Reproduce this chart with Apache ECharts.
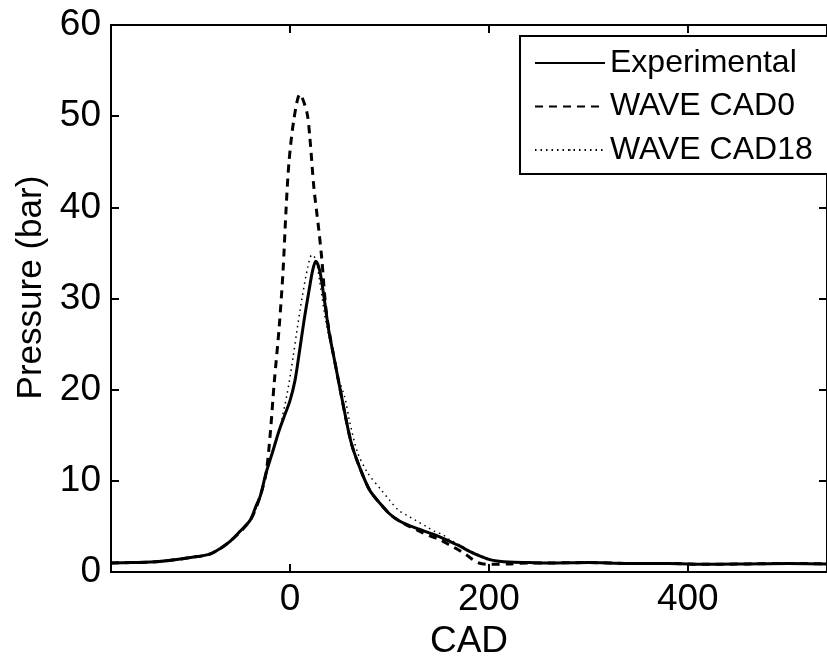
<!DOCTYPE html>
<html>
<head>
<meta charset="utf-8">
<script src="https://cdn.jsdelivr.net/npm/echarts@6/dist/echarts.min.js"></script>
<style>
html,body{margin:0;padding:0;background:#fff;}
#chart{width:827px;height:665px;}
</style>
</head>
<body>
<div id="chart"></div>
<script>
// ---- Data ----
const seriesNames = ['Experimental', 'WAVE CAD0', 'WAVE CAD18'];

const expCad = [-180,-160,-140,-120,-100,-80,-70,-60,-50,-40,-34,-30,-24,-18,-11,-5,0,5,9,14,19,23,26,30,34,39,45,55,62,70,80,90,100,110,120,130,140,150,160,170,180,190,200,210,220,240,260,300,340,380,420,460,500,540];
const expP   = [1.0,1.05,1.1,1.3,1.6,2.0,2.6,3.4,4.5,5.7,7.3,8.3,10.9,13.0,15.5,17.3,18.8,21.0,23.8,27.5,30.8,33.2,34.1,33.0,30.3,26.5,23.1,17.5,14.0,11.5,9.0,7.6,6.4,5.6,5.1,4.7,4.3,3.9,3.4,2.9,2.3,1.8,1.4,1.2,1.1,1.05,1.0,1.05,0.95,0.95,0.85,0.9,0.95,0.9];

const cad0Cad = [-180,-160,-140,-120,-100,-80,-60,-40,-30,-24,-20,-16,-11,-7,-4,-1,4,10,17,20,24,29,32,36,40,45,55,62,70,80,90,100,110,120,130,140,150,160,170,177,190,203,220,240,260,300,340,380,420,460,500,540];
const cad0P   = [1.0,1.05,1.1,1.3,1.6,2.0,3.4,5.7,8.3,10.9,15.0,20.6,26.7,33.0,39.7,45.0,49.7,52.4,50.4,47.6,42.2,37.5,34.3,29.0,26.0,23.1,17.5,14.0,11.5,9.0,7.6,6.4,5.6,5.0,4.5,4.0,3.6,3.0,2.4,1.9,1.0,0.85,0.9,1.0,1.0,1.05,0.95,0.95,0.85,0.9,0.95,0.9];

const cad18Cad = [-180,-160,-140,-120,-100,-80,-60,-40,-30,-24,-18,-11,-3,3,7,12,18,22,26,30,36,42,48,55,60,68,78,91,100,109,118,126,137,145,154,160,170,180,190,200,210,220,240,260,300,340,380,420,460,500,540];
const cad18P   = [1.0,1.05,1.1,1.3,1.6,2.0,3.4,5.7,8.3,10.9,13.0,15.5,19.5,23.5,26.5,30.0,33.5,34.8,34.3,31.8,27.5,24.5,21.5,19.2,16.5,13.1,10.9,9.1,7.9,6.8,6.2,5.7,5.0,4.5,4.07,3.6,3.0,2.4,1.9,1.45,1.2,1.1,1.05,1.0,1.05,0.95,0.95,0.85,0.9,0.95,0.9];

const xTicks = [0, 200, 400];

function pairs(xs, ys) { return xs.map((x, i) => [x, ys[i]]); }

const FONT = 'Liberation Sans, Arial, sans-serif';
const chart = echarts.init(document.getElementById('chart'), null, {renderer: 'canvas'});

chart.setOption({
  animation: false,
  backgroundColor: '#fff',
  grid: {left: 111, top: 25, right: -11, bottom: 84, show: false},
  legend: {
    orient: 'vertical',
    left: 520, top: 36,
    data: seriesNames,
    backgroundColor: '#fff',
    borderColor: '#000', borderWidth: 2, borderRadius: 0,
    padding: [11, 16, 8, 14],
    itemWidth: 70, itemHeight: 2, itemGap: 11.5,
    textStyle: {fontFamily: FONT, fontSize: 32, color: '#000', lineHeight: 30}
  },
  xAxis: [{
    type: 'value', min: -180, max: 540, position: 'bottom',
    name: 'CAD', nameLocation: 'middle', nameGap: 46,
    nameTextStyle: {fontFamily: FONT, fontSize: 37, color: '#000'},
    axisLine: {show: true, onZero: false, lineStyle: {color: '#000', width: 2}},
    axisTick: {show: true, inside: true, length: 8, customValues: xTicks, lineStyle: {color: '#000', width: 2}},
    axisLabel: {customValues: xTicks, fontFamily: FONT, fontSize: 37, color: '#000', margin: 9},
    splitLine: {show: false}
  }, {
    type: 'value', min: -180, max: 540, position: 'top',
    axisLine: {show: true, onZero: false, lineStyle: {color: '#000', width: 2}},
    axisTick: {show: true, inside: true, length: 8, customValues: xTicks, lineStyle: {color: '#000', width: 2}},
    axisLabel: {show: false},
    splitLine: {show: false}
  }],
  yAxis: [{
    type: 'value', min: 0, max: 60, interval: 10, position: 'left',
    name: 'Pressure (bar)', nameLocation: 'middle', nameGap: 58,
    nameTextStyle: {fontFamily: FONT, fontSize: 35, color: '#000', padding: [0, 0, 0, 22]},
    axisLine: {show: true, onZero: false, lineStyle: {color: '#000', width: 2}},
    axisTick: {show: true, inside: true, length: 8, lineStyle: {color: '#000', width: 2}},
    axisLabel: {fontFamily: FONT, fontSize: 37, color: '#000', margin: 10},
    splitLine: {show: false}
  }, {
    type: 'value', min: 0, max: 60, interval: 10, position: 'right',
    axisLine: {show: true, onZero: false, lineStyle: {color: '#000', width: 2}},
    axisTick: {show: true, inside: true, length: 8, lineStyle: {color: '#000', width: 2}},
    axisLabel: {show: false},
    splitLine: {show: false}
  }],
  series: [{
    name: seriesNames[0], type: 'line', xAxisIndex: 0, yAxisIndex: 0,
    data: pairs(expCad, expP), symbol: 'none', smooth: 0.3, z: 3,
    lineStyle: {color: '#000', width: 3, type: 'solid'},
    itemStyle: {color: '#000'}
  }, {
    name: seriesNames[1], type: 'line', xAxisIndex: 0, yAxisIndex: 0,
    data: pairs(cad0Cad, cad0P), symbol: 'none', smooth: 0.3, z: 2,
    lineStyle: {color: '#000', width: 3, type: [8, 6]},
    itemStyle: {color: '#000'}
  }, {
    name: seriesNames[2], type: 'line', xAxisIndex: 0, yAxisIndex: 0,
    data: pairs(cad18Cad, cad18P), symbol: 'none', smooth: 0.3, z: 2,
    lineStyle: {color: '#000', width: 1.5, type: [1.5, 4]},
    itemStyle: {color: '#000'}
  }]
});
</script>
</body>
</html>
